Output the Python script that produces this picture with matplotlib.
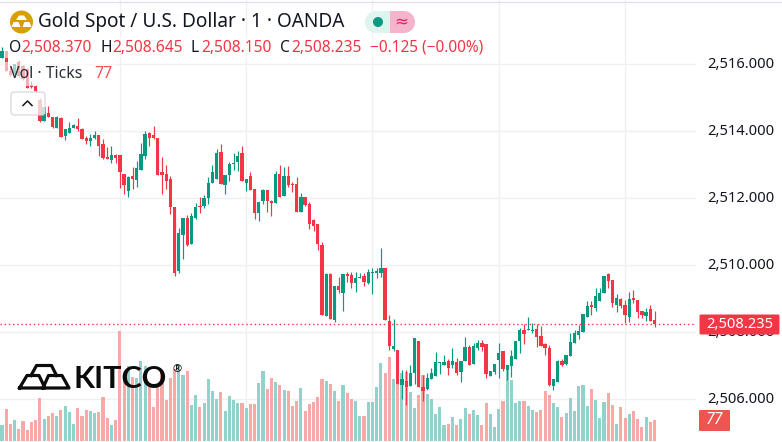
#!/usr/bin/env python3
"""Gold spot 1-minute candles with tick volume, OANDA feed, Kitco watermark."""

import numpy as np
import matplotlib
matplotlib.use("Agg")
import matplotlib.pyplot as plt
from matplotlib.patches import Circle, FancyBboxPatch, Rectangle
from matplotlib.ticker import FuncFormatter
from matplotlib.transforms import ScaledTranslation

# prices, before the small scale correction below
opens = [2516.14, 2516.36, 2515.74, 2515.66, 2516.01, 2515.91, 2515.81, 2515.32, 2515.29, 2514.89,
         2514.26, 2514.51, 2514.39, 2514.05, 2514.35, 2513.81, 2513.90, 2514.04, 2514.10, 2514.01,
         2513.74, 2513.65, 2513.74, 2513.83, 2513.56, 2513.17, 2513.08, 2513.23, 2513.23, 2512.67,
         2512.16, 2512.61, 2512.49, 2512.79, 2513.20, 2513.89, 2513.83, 2513.74, 2512.73, 2512.67,
         2512.52, 2511.68, 2509.78, 2510.85, 2511.36, 2510.58, 2511.36, 2511.71, 2511.71, 2511.95,
         2512.40, 2512.52, 2513.32, 2512.34, 2512.64, 2512.96, 2513.02, 2513.29, 2512.40, 2512.61,
         2512.22, 2511.51, 2511.86, 2512.19, 2511.87, 2511.80, 2512.67, 2512.01, 2512.61, 2512.38,
         2512.37, 2511.54, 2511.98, 2511.77, 2511.30, 2511.18, 2510.55, 2508.44, 2509.69, 2508.32,
         2509.33, 2509.13, 2509.69, 2509.66, 2509.42, 2509.57, 2509.63, 2509.42, 2509.72, 2509.72,
         2509.72, 2509.87, 2508.29, 2507.46, 2507.43, 2506.39, 2506.51, 2506.36, 2506.74, 2507.70,
         2506.33, 2506.27, 2506.57, 2506.65, 2507.02, 2506.98, 2507.10, 2506.98, 2507.07, 2506.77,
         2507.10, 2507.52, 2507.01, 2507.49, 2507.64, 2507.61, 2506.65, 2506.77, 2507.13, 2507.40,
         2506.83, 2506.95, 2507.16, 2507.70, 2508.02, 2508.03, 2507.99, 2508.05, 2507.85, 2507.61,
         2507.49, 2506.36, 2506.48, 2507.10, 2507.01, 2507.25, 2507.64, 2507.88, 2507.96, 2508.41,
         2508.77, 2508.68, 2508.89, 2509.13, 2509.69, 2509.51, 2508.77, 2508.95, 2508.77, 2508.41,
         2508.98, 2508.92, 2508.59, 2508.44, 2508.65, 2508.32]
highs = [2516.48, 2516.36, 2515.91, 2515.96, 2516.06, 2515.93, 2515.83, 2515.44, 2515.32, 2514.93,
         2514.67, 2514.69, 2514.39, 2514.42, 2514.37, 2514.01, 2514.24, 2514.18, 2514.36, 2514.04,
         2513.80, 2513.86, 2513.95, 2513.83, 2513.71, 2513.47, 2513.50, 2513.26, 2513.23, 2512.67,
         2512.61, 2512.88, 2513.05, 2513.59, 2513.95, 2513.92, 2514.12, 2513.74, 2513.17, 2512.93,
         2512.61, 2511.68, 2511.06, 2511.36, 2511.45, 2511.51, 2511.80, 2511.98, 2512.04, 2512.58,
         2512.93, 2513.41, 2513.56, 2512.64, 2513.02, 2513.29, 2513.35, 2513.50, 2512.52, 2512.73,
         2512.22, 2511.83, 2512.22, 2512.19, 2511.89, 2512.76, 2512.93, 2512.88, 2512.90, 2512.43,
         2512.58, 2512.10, 2511.98, 2511.83, 2511.33, 2511.18, 2510.64, 2509.72, 2509.72, 2509.33,
         2509.60, 2509.69, 2509.75, 2509.75, 2509.75, 2509.72, 2509.72, 2509.84, 2509.87, 2509.87,
         2510.46, 2509.87, 2508.47, 2508.35, 2507.43, 2506.83, 2506.83, 2506.98, 2507.79, 2507.70,
         2506.68, 2506.74, 2506.89, 2507.37, 2507.07, 2507.28, 2507.16, 2507.49, 2507.19, 2507.10,
         2507.82, 2507.58, 2507.64, 2507.73, 2507.73, 2507.61, 2506.80, 2507.01, 2507.64, 2507.40,
         2506.98, 2507.43, 2507.70, 2508.08, 2508.20, 2508.41, 2508.23, 2508.20, 2508.14, 2507.64,
         2507.58, 2506.57, 2507.13, 2507.16, 2507.28, 2507.93, 2508.02, 2508.17, 2508.50, 2508.89,
         2508.89, 2509.27, 2509.27, 2509.63, 2509.72, 2509.51, 2509.10, 2508.98, 2508.92, 2509.16,
         2509.21, 2508.92, 2508.59, 2508.68, 2508.77, 2508.595]
lows = [2516.14, 2515.74, 2515.61, 2515.60, 2515.58, 2515.49, 2515.25, 2515.25, 2515.13, 2514.22,
        2514.26, 2514.39, 2514.06, 2514.05, 2513.78, 2513.68, 2513.90, 2514.04, 2513.95, 2513.71,
        2513.56, 2513.50, 2513.71, 2513.20, 2513.11, 2513.11, 2512.99, 2512.99, 2512.25, 2512.07,
        2511.98, 2512.22, 2512.28, 2512.79, 2513.11, 2513.50, 2513.71, 2512.64, 2512.07, 2512.22,
        2511.48, 2509.63, 2509.72, 2510.14, 2510.52, 2510.58, 2511.33, 2511.51, 2511.65, 2511.77,
        2512.40, 2512.52, 2512.37, 2512.07, 2512.46, 2512.79, 2512.76, 2512.46, 2512.16, 2512.19,
        2511.33, 2511.27, 2511.77, 2511.54, 2511.42, 2511.80, 2511.98, 2512.01, 2512.28, 2512.13,
        2511.54, 2511.54, 2511.71, 2511.03, 2510.97, 2510.41, 2508.47, 2508.44, 2508.35, 2508.26,
        2509.13, 2508.59, 2509.45, 2509.27, 2509.16, 2509.57, 2509.33, 2509.39, 2509.10, 2509.57,
        2509.60, 2508.32, 2507.43, 2507.40, 2506.42, 2505.97, 2505.79, 2506.36, 2506.42, 2506.33,
        2505.91, 2506.24, 2506.57, 2506.65, 2506.71, 2506.98, 2506.68, 2506.89, 2506.68, 2506.48,
        2507.10, 2506.98, 2507.01, 2507.43, 2507.40, 2506.60, 2506.65, 2506.71, 2506.60, 2506.80,
        2506.54, 2506.63, 2507.16, 2507.34, 2507.61, 2508.03, 2507.93, 2507.52, 2507.55, 2507.28,
        2506.35, 2506.24, 2506.48, 2506.95, 2506.98, 2507.25, 2507.64, 2507.76, 2507.96, 2508.41,
        2508.47, 2508.59, 2508.89, 2509.13, 2509.27, 2508.71, 2508.56, 2508.68, 2508.23, 2508.26,
        2508.83, 2508.38, 2508.38, 2508.29, 2508.29, 2508.10]
closes = [2516.36, 2515.74, 2515.64, 2515.96, 2515.61, 2515.51, 2515.25, 2515.27, 2515.15, 2514.26,
          2514.67, 2514.39, 2514.08, 2514.37, 2513.78, 2514.01, 2514.04, 2514.13, 2514.01, 2513.71,
          2513.65, 2513.74, 2513.83, 2513.50, 2513.14, 2513.11, 2513.23, 2513.14, 2512.73, 2512.34,
          2512.58, 2512.52, 2512.85, 2513.26, 2513.86, 2513.74, 2513.74, 2512.64, 2512.64, 2512.46,
          2511.68, 2509.72, 2510.91, 2511.36, 2510.55, 2511.42, 2511.68, 2511.68, 2511.95, 2512.40,
          2512.73, 2513.29, 2512.37, 2512.64, 2512.97, 2512.99, 2513.20, 2512.46, 2512.52, 2512.19,
          2511.51, 2511.83, 2512.19, 2511.86, 2511.80, 2512.67, 2511.98, 2512.61, 2512.34, 2512.34,
          2511.54, 2511.98, 2511.74, 2511.18, 2511.12, 2510.58, 2508.47, 2509.69, 2508.35, 2509.33,
          2509.21, 2509.69, 2509.63, 2509.42, 2509.57, 2509.60, 2509.45, 2509.75, 2509.75, 2509.78,
          2509.87, 2508.32, 2507.55, 2507.55, 2506.42, 2506.57, 2506.33, 2506.74, 2507.79, 2506.33,
          2506.21, 2506.60, 2506.74, 2507.07, 2507.04, 2507.07, 2506.89, 2507.10, 2506.74, 2507.10,
          2507.52, 2506.98, 2507.55, 2507.64, 2507.52, 2506.71, 2506.80, 2507.01, 2507.34, 2506.86,
          2506.98, 2507.25, 2507.70, 2508.02, 2507.91, 2508.05, 2508.02, 2507.81, 2507.55, 2507.49,
          2506.39, 2506.57, 2507.10, 2506.97, 2507.28, 2507.67, 2507.93, 2507.99, 2508.50, 2508.74,
          2508.71, 2509.04, 2509.13, 2509.63, 2509.48, 2508.83, 2508.98, 2508.74, 2508.47, 2508.95,
          2508.92, 2508.56, 2508.47, 2508.56, 2508.29, 2508.185]
ticks = [59, 117, 62, 77, 44, 73, 40, 70, 77, 158, 81, 92, 103, 92, 114, 128, 106, 62, 121, 92,
         114, 110, 103, 106, 161, 84, 59, 77, 403, 220, 275, 236, 231, 293, 275, 205, 125, 205, 253, 150,
         230, 264, 279, 242, 257, 132, 169, 125, 139, 227, 183, 154, 180, 110, 165, 150, 139, 139, 121, 136,
         136, 213, 257, 191, 231, 216, 205, 187, 183, 128, 147, 194, 110, 136, 143, 161, 227, 220, 209, 183,
         147, 205, 176, 154, 147, 92, 92, 143, 143, 198, 286, 249, 308, 227, 209, 249, 253, 180, 121, 169,
         242, 172, 154, 99, 125, 59, 62, 88, 59, 81, 121, 99, 114, 95, 59, 139, 99, 51, 117, 147,
         260, 224, 139, 147, 147, 128, 114, 106, 114, 183, 169, 139, 125, 88, 103, 158, 110, 202, 205, 128,
         191, 150, 84, 143, 176, 132, 62, 125, 84, 99, 110, 81, 51, 88, 70, 77]
price_ticks = [2506, 2508, 2510, 2512, 2514, 2516]
time_grid = [28, 58, 88, 118, 148]

last_price = 2508.235
last_ticks = 77
title = "Gold Spot / U.S. Dollar \u00b7 1 \u00b7 OANDA"
ohlc_row = [("O", 9, "2,508.370", 21.5), ("H", 100.5, "2,508.645", 112.5),
            ("L", 191, "2,508.150", 201), ("C", 280, "2,508.235", 291)]
change_text = "\u22120.125 (\u22120.00%)"

READ_SHIFT = 0.05
UP = "#089981"
DOWN = "#F23645"
VOL_UP = "#92D2CC"
VOL_DOWN = "#F7A9A7"
GRID = "#F0F0F2"
INK = "#131722"
FONT = "Noto Sans"

plt.rcParams["font.family"] = [FONT, "DejaVu Sans"]

opens = np.array(opens) + READ_SHIFT
highs = np.array(highs) + READ_SHIFT
lows = np.array(lows) + READ_SHIFT
closes = np.array(closes) + READ_SHIFT
ticks = np.array(ticks)
x = np.arange(len(opens))
is_up = closes >= opens

fig = plt.figure(figsize=(7.82, 4.42), dpi=100, facecolor="white")
pane = [0, 0, 696 / 782, 1]

# volume sits under the candles and shares the grid-free bottom of the pane
vol_ax = fig.add_axes(pane, zorder=2, facecolor="none")
vol_ax.bar(x, ticks, width=0.74, bottom=0, linewidth=0,
           color=[VOL_UP if u else VOL_DOWN for u in is_up])
vol_ax.set_xlim(-0.475, 164.85)
vol_ax.set_ylim(-3.67, 1617)
vol_ax.axis("off")

ax = fig.add_axes(pane, zorder=3, facecolor="none")
colors = np.where(is_up, UP, DOWN)
ax.vlines(x, lows, highs, colors=colors, linewidth=0.85)
ax.bar(x, np.maximum(np.abs(closes - opens), 0.03), bottom=np.minimum(opens, closes),
       width=0.78, color=colors, linewidth=0)
ax.set_xlim(-0.475, 164.85)
ax.set_ylim(2504.725, 2517.919)
ax.set_xticks(time_grid)
ax.set_yticks(price_ticks)
ax.yaxis.tick_right()
ax.yaxis.set_major_formatter(FuncFormatter(lambda v, _: f"{v:,.3f}"))
ax.tick_params(axis="both", length=0, pad=8, labelbottom=False, labelsize=10.6, labelcolor=INK)
label_nudge = ScaledTranslation(0, 2 / 100, fig.dpi_scale_trans)
for label in ax.get_yticklabels():
    label.set_transform(label.get_transform() + label_nudge)
for spine in ax.spines.values():
    spine.set_visible(False)
ax.axhline(last_price, color=DOWN, linewidth=1, linestyle=(0, (1, 2)))

# grid goes on its own axes so it stays behind the volume bars
grid_ax = fig.add_axes(pane, zorder=1)
grid_ax.set_xlim(ax.get_xlim())
grid_ax.set_ylim(ax.get_ylim())
grid_ax.set_xticks(time_grid)
grid_ax.set_yticks(price_ticks)
grid_ax.tick_params(length=0, labelbottom=False, labelleft=False)
grid_ax.grid(True, color=GRID, linewidth=1)
for spine in grid_ax.spines.values():
    spine.set_visible(False)

# overlay in pixel coordinates for legend, badges and watermark
ov = fig.add_axes([0, 0, 1, 1], zorder=4, facecolor="none")
ov.set_xlim(0, 782)
ov.set_ylim(442, 0)
ov.axis("off")

ov.plot([0, 782], [1.5, 1.5], color="#E0E3EB", linewidth=1)

ov.add_patch(Rectangle((4, 37), 486, 21, color="white", alpha=0.6, linewidth=0))
ov.add_patch(Rectangle((4, 62), 112, 24, color="white", alpha=0.6, linewidth=0))

ov.add_patch(Circle((21.5, 22), 11.5, color="#D99E00", linewidth=0))
for bar_xy in [((16, 20), (27, 20), (24, 15.5), (19, 15.5)),
               ((11.5, 27), (20.5, 27), (18.5, 22), (13.5, 22)),
               ((22.5, 27), (31.5, 27), (29.5, 22), (24.5, 22))]:
    ov.fill(*zip(*bar_xy), color="white", linewidth=0)

ov.text(38, 22, title, color=INK, fontsize=13.7, va="center", ha="left")

ov.add_patch(Circle((376, 22), 11, color="#DFF3EF", linewidth=0))
ov.add_patch(Rectangle((376, 11), 14, 22, color="#DFF3EF", linewidth=0))
ov.add_patch(Circle((404, 22), 11, color="#F5B4CC", linewidth=0))
ov.add_patch(Rectangle((390, 11), 14, 22, color="#F5B4CC", linewidth=0))
ov.add_patch(Circle((378, 22), 5, color=UP, linewidth=0))
ov.text(401.5, 22, "\u2248", color="#E91E63", fontsize=12, ha="center", va="center")

for label, lx, value, vx in ohlc_row:
    ov.text(lx, 47.5, label, color=INK, fontsize=11.2, va="center", ha="left")
    ov.text(vx, 47.5, value, color=DOWN, fontsize=11.2, va="center", ha="left")
ov.text(370.5, 47.5, change_text, color=DOWN, fontsize=11.1, va="center", ha="left")

ov.text(10, 73.5, "Vol \u00b7 Ticks", color="#2A2E39", fontsize=11.4, va="center", ha="left")
ov.text(94, 73.5, str(last_ticks), color="#EF5350", fontsize=11.4, va="center", ha="left")

ov.add_patch(FancyBboxPatch((11, 92), 34, 23, boxstyle="round,pad=0,rounding_size=3",
                            facecolor=(1, 1, 1, 0.75), edgecolor="#D1D4DC", linewidth=0.8))
ov.plot([23, 27.5, 32], [105.5, 101, 105.5], color=INK, linewidth=1.1)

# price and volume badges on the scale
ov.add_patch(FancyBboxPatch((699.5, 314.5), 80, 20, boxstyle="round,pad=0,rounding_size=1.5",
                            color=DOWN, linewidth=0))
ov.text(739.5, 324.5, f"{last_price:,.3f}", color="white", fontsize=10.6, fontweight="medium",
        ha="center", va="center")
ov.add_patch(FancyBboxPatch((699, 410), 31, 21, boxstyle="round,pad=0,rounding_size=1",
                            color="#F05350", linewidth=0))
ov.text(714.5, 420.5, str(last_ticks), color="white", fontsize=11.5, fontstyle="italic",
        ha="center", va="center")

# Kitco watermark
for path in [[(31, 375.5), (36.5, 365.5), (51.5, 365.5), (56.5, 375.5)],
             [(19.5, 388), (27, 375.5), (39, 375.5), (45, 388), (19.5, 388)],
             [(43, 388), (48.5, 375.5), (62, 375.5), (69, 388), (43, 388)]]:
    ov.plot(*zip(*path), color="#0B0B0B", linewidth=2.3, solid_joinstyle="round")
ov.text(73.5, 379, "KITCO", color="#0B0B0B", fontsize=22, fontweight="bold", family="Lato",
        ha="left", va="center")
ov.text(177, 369.5, "\u00ae", color="#0B0B0B", fontsize=8, ha="center", va="center")

fig.savefig("out.png", dpi=100)
